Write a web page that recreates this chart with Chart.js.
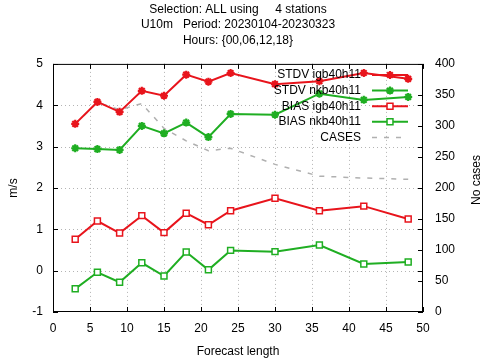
<!DOCTYPE html>
<html>
<head>
    <meta charset="UTF-8">
    <title>U10m verification</title>
    <script src="https://cdn.jsdelivr.net/npm/chart.js@4.4.1/dist/chart.umd.min.js"></script>
    <style type="text/css">
        body { margin: 0; background: #fff; }
        #wrap { width: 485px; height: 360px; }
    </style>
</head>
<body>

<div id="wrap">
    <canvas id="verifChart" width="485" height="360"></canvas>
</div>

<script>
    // forecast lengths (hours)
    const forecastHours = [3, 6, 9, 12, 15, 18, 21, 24, 30, 36, 42, 48];

    // left axis, m/s
    const stdvIgb = [3.55, 4.08, 3.84, 4.35, 4.23, 4.74, 4.57, 4.78, 4.51, 4.58, 4.78, 4.64];
    const stdvNkb = [2.96, 2.94, 2.92, 3.50, 3.32, 3.58, 3.23, 3.79, 3.77, 4.28, 4.13, 4.20];
    const biasIgb = [0.76, 1.20, 0.91, 1.33, 0.92, 1.39, 1.11, 1.45, 1.75, 1.45, 1.56, 1.25];
    const biasNkb = [-0.44, -0.04, -0.28, 0.19, -0.13, 0.45, 0.02, 0.49, 0.46, 0.62, 0.16, 0.21];

    // right axis, number of cases
    const cases = [303, 338, 326, 336, 296, 276, 260, 264, 238, 219, 216, 214];

    const titleLines = ['Selection: ALL using     4 stations', 'U10m   Period: 20230104-20230323', 'Hours: {00,06,12,18}'];
    const xTicks = [0, 5, 10, 15, 20, 25, 30, 35, 40, 45, 50];
    const yTicks = [-1, 0, 1, 2, 3, 4, 5];
    const y2Ticks = [0, 50, 100, 150, 200, 250, 300, 350, 400];

    const RED = '#e8141c';
    const GREEN = '#1fae22';
    const GREY = '#b0b0b0';
    const FONT = 'Liberation Sans, Arial, sans-serif';

    const pts = arr => forecastHours.map((h, i) => ({ x: h, y: arr[i] }));

    // gnuplot-like frame: dotted grid, box, inward ticks, axis labels, key
    const gnuFrame = {
        id: 'gnuFrame',
        beforeDatasetsDraw(chart) {
            const { ctx, chartArea: a, scales } = chart;
            ctx.save();
            ctx.strokeStyle = '#b4b4b4';
            ctx.lineWidth = 1;
            ctx.setLineDash([1, 3]);
            xTicks.slice(1, -1).forEach(v => {
                const px = Math.round(scales.x.getPixelForValue(v)) + 0.5;
                ctx.beginPath(); ctx.moveTo(px, a.top); ctx.lineTo(px, a.bottom); ctx.stroke();
            });
            yTicks.slice(1, -1).forEach(v => {
                const py = Math.round(scales.y.getPixelForValue(v)) + 0.5;
                ctx.beginPath(); ctx.moveTo(a.left, py); ctx.lineTo(a.right, py); ctx.stroke();
            });
            ctx.restore();
        },
        afterDatasetsDraw(chart) {
            const { ctx, chartArea: a, scales } = chart;
            const tl = 5;
            ctx.save();
            ctx.strokeStyle = '#000';
            ctx.lineWidth = 1;
            ctx.setLineDash([]);
            ctx.strokeRect(a.left + 0.5, a.top + 0.5, a.right - a.left - 1, a.bottom - a.top - 1);
            ctx.beginPath();
            xTicks.forEach(v => {
                const px = Math.round(scales.x.getPixelForValue(v)) + 0.5;
                ctx.moveTo(px, a.bottom); ctx.lineTo(px, a.bottom - tl);
                ctx.moveTo(px, a.top); ctx.lineTo(px, a.top + tl);
            });
            yTicks.forEach(v => {
                const py = Math.round(scales.y.getPixelForValue(v)) + 0.5;
                ctx.moveTo(a.left, py); ctx.lineTo(a.left + tl, py);
                ctx.moveTo(a.right, py); ctx.lineTo(a.right - tl, py);
            });
            y2Ticks.forEach(v => {
                const py = Math.round(scales.y1.getPixelForValue(v)) + 0.5;
                ctx.moveTo(a.right, py); ctx.lineTo(a.right - tl, py);
            });
            ctx.stroke();

            // axis titles, both read bottom to top
            ctx.fillStyle = '#000';
            ctx.font = '12px ' + FONT;
            ctx.textAlign = 'center';
            ctx.textBaseline = 'middle';
            ctx.save();
            ctx.translate(14, 188);
            ctx.rotate(-Math.PI / 2);
            ctx.fillText('m/s', 0, 0);
            ctx.restore();
            ctx.save();
            ctx.translate(477, 180);
            ctx.rotate(-Math.PI / 2);
            ctx.fillText('No cases', 0, 0);
            ctx.restore();

            // key, top right inside the plot
            const textRight = 361, lineL = 372, lineR = 408;
            ctx.textAlign = 'right';
            chart.data.datasets.forEach((ds, i) => {
                const y = 75 + i * 15.6;
                ctx.fillStyle = '#000';
                ctx.fillText(ds.label, textRight, y);
                ctx.strokeStyle = ds.borderColor;
                ctx.lineWidth = ds.borderWidth;
                ctx.setLineDash(ds.borderDash || []);
                ctx.beginPath(); ctx.moveTo(lineL, y); ctx.lineTo(lineR, y); ctx.stroke();
                ctx.setLineDash([]);
                if (ds.pointRadius > 0) {
                    ctx.fillStyle = ds.pointBackgroundColor;
                    ctx.lineWidth = ds.pointBorderWidth;
                    Chart.helpers.drawPoint(ctx, {
                        pointStyle: ds.pointStyle, radius: ds.pointRadius,
                        rotation: 0, borderWidth: ds.pointBorderWidth
                    }, (lineL + lineR) / 2, y);
                }
            });
            ctx.restore();
        }
    };

    const lineSet = (label, data, color, style) => ({
        label: label,
        data: pts(data),
        yAxisID: 'y',
        borderColor: color,
        borderWidth: 2,
        pointStyle: style,
        pointRadius: style === 'star' ? 4 : 4.2,
        pointBorderColor: color,
        pointBackgroundColor: style === 'star' ? color : '#fff',
        pointBorderWidth: style === 'star' ? 2.2 : 1.5,
        tension: 0,
        fill: false
    });

    new Chart(document.getElementById('verifChart').getContext('2d'), {
        type: 'line',
        data: {
            datasets: [
                lineSet('STDV igb40h11', stdvIgb, RED, 'star'),
                lineSet('STDV nkb40h11', stdvNkb, GREEN, 'star'),
                lineSet('BIAS igb40h11', biasIgb, RED, 'rect'),
                lineSet('BIAS nkb40h11', biasNkb, GREEN, 'rect'),
                {
                    label: 'CASES',
                    data: pts(cases),
                    yAxisID: 'y1',
                    borderColor: GREY,
                    borderWidth: 1.5,
                    borderDash: [5, 7],
                    pointRadius: 0,
                    tension: 0,
                    fill: false
                }
            ]
        },
        options: {
            responsive: false,
            animation: false,
            events: [],
            layout: { padding: 0 },
            plugins: {
                legend: { display: false },
                tooltip: { enabled: false },
                title: {
                    display: true,
                    fullSize: false,
                    text: titleLines,
                    color: '#000',
                    font: { family: FONT, size: 12, weight: 'normal', lineHeight: 1.275 },
                    padding: { top: 2, bottom: 16 }
                }
            },
            scales: {
                x: {
                    type: 'linear',
                    min: 0, max: 50,
                    afterFit: s => { s.height = 48; },
                    afterBuildTicks: s => { s.ticks = xTicks.map(v => ({ value: v })); },
                    grid: { display: false, drawTicks: false },
                    border: { display: false },
                    ticks: { color: '#000', padding: 9, font: { family: FONT, size: 12 }, maxRotation: 0 },
                    title: {
                        display: true, text: 'Forecast length', color: '#000',
                        font: { family: FONT, size: 12 }, padding: { top: 0, bottom: 1 }
                    }
                },
                y: {
                    position: 'left',
                    min: -1, max: 5,
                    afterFit: s => { s.width = 53; },
                    afterBuildTicks: s => { s.ticks = yTicks.map(v => ({ value: v })); },
                    grid: { display: false, drawTicks: false },
                    border: { display: false },
                    ticks: { color: '#000', padding: 10, font: { family: FONT, size: 12 } }
                },
                y1: {
                    position: 'right',
                    min: 0, max: 400,
                    afterFit: s => { s.width = 62; },
                    afterBuildTicks: s => { s.ticks = y2Ticks.map(v => ({ value: v })); },
                    grid: { display: false, drawTicks: false },
                    border: { display: false },
                    ticks: { color: '#000', padding: 12, font: { family: FONT, size: 12 } }
                }
            }
        },
        plugins: [gnuFrame]
    });
</script>

</body>
</html>
